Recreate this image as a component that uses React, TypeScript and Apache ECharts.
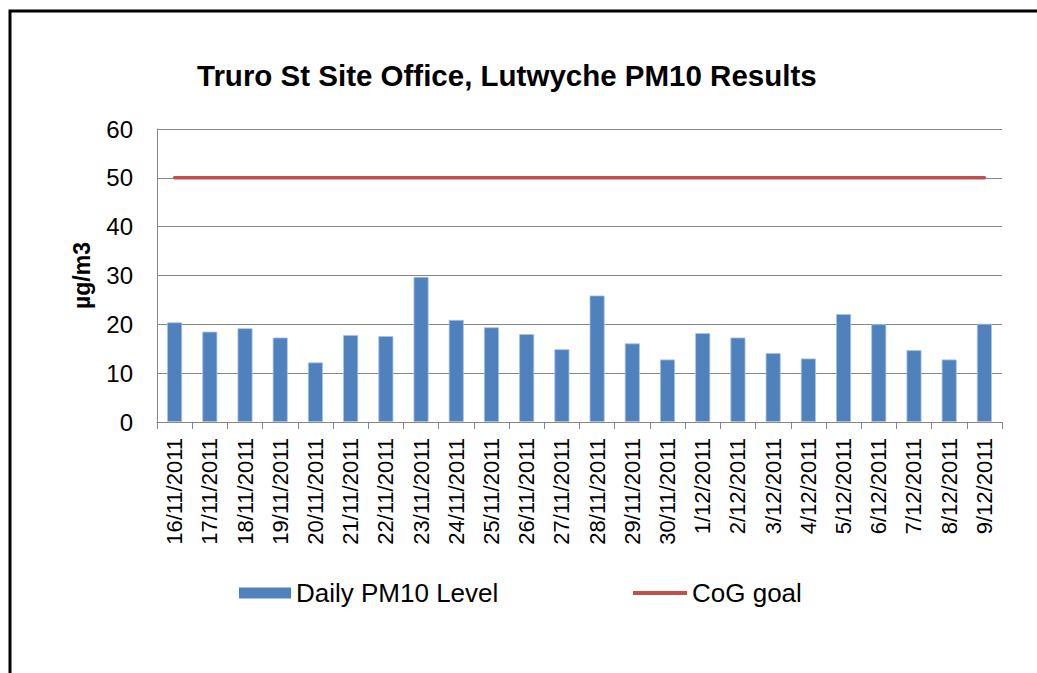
import React, { useEffect, useRef } from "react";
import * as echarts from "echarts";

const categories = [
  "16/11/2011", "17/11/2011", "18/11/2011", "19/11/2011", "20/11/2011", "21/11/2011",
  "22/11/2011", "23/11/2011", "24/11/2011", "25/11/2011", "26/11/2011", "27/11/2011",
  "28/11/2011", "29/11/2011", "30/11/2011", "1/12/2011", "2/12/2011", "3/12/2011",
  "4/12/2011", "5/12/2011", "6/12/2011", "7/12/2011", "8/12/2011", "9/12/2011",
];
const dailyPM10 = [
  20.4, 18.5, 19.2, 17.3, 12.2, 17.8, 17.6, 29.7, 20.9, 19.4, 18.0, 14.9,
  25.9, 16.1, 12.8, 18.2, 17.3, 14.1, 13.0, 22.1, 20.0, 14.7, 12.8, 20.1,
];
const cogGoal = categories.map(() => 50);
const yTicks = { min: 0, max: 60, interval: 10 };

const FONT = "'Liberation Sans', Arial, sans-serif";

export default function App() {
  const ref = useRef<HTMLDivElement>(null);
  useEffect(() => {
    if (!ref.current) return;
    const chart = echarts.init(ref.current, undefined, { renderer: "svg" });
    chart.setOption({
      animation: false,
      backgroundColor: "#ffffff",
      textStyle: { fontFamily: FONT, color: "#000" },
      title: {
        text: "Truro St Site Office, Lutwyche PM10 Results",
        left: 197,
        top: 60,
        padding: 0,
        textStyle: { fontFamily: FONT, fontSize: 29.5, fontWeight: "bold", color: "#000" },
      },
      graphic: [
        {
          type: "rect",
          shape: { x: 10, y: 11, width: 2000, height: 2000 },
          style: { fill: "none", stroke: "#000", lineWidth: 3 },
          silent: true,
        },
      ],
      legend: [
        {
          data: [{ name: "Daily PM10 Level", icon: "rect" }],
          left: 239,
          top: 580,
          padding: 0,
          itemWidth: 52,
          itemHeight: 11,
          itemStyle: { borderWidth: 0 },
          textStyle: { fontFamily: FONT, fontSize: 26, color: "#000" },
        },
        {
          data: [{ name: "CoG goal", icon: "rect" }],
          left: 633,
          top: 580,
          padding: 0,
          itemWidth: 54,
          itemHeight: 4,
          itemStyle: { color: "#C0504D" },
          textStyle: { fontFamily: FONT, fontSize: 26, color: "#000" },
        },
      ],
      grid: { left: 157, right: 35, top: 129, bottom: 251, containLabel: false },
      xAxis: {
        type: "category",
        data: categories,
        boundaryGap: true,
        axisLine: { show: true, lineStyle: { color: "#868686", width: 1 } },
        axisTick: { show: true, alignWithLabel: false, length: 7, lineStyle: { color: "#868686" } },
        axisLabel: {
          rotate: 90,
          interval: 0,
          margin: 16,
          fontFamily: FONT,
          fontSize: 22,
          color: "#000",
        },
        splitLine: { show: false },
      },
      yAxis: {
        type: "value",
        min: yTicks.min,
        max: yTicks.max,
        interval: yTicks.interval,
        name: "µg/m3",
        nameLocation: "middle",
        nameGap: 64,
        nameRotate: 90,
        nameTextStyle: { fontFamily: FONT, fontSize: 23, fontWeight: "bold", color: "#000" },
        axisLine: { show: true, lineStyle: { color: "#868686", width: 1 } },
        axisTick: { show: false },
        axisLabel: { margin: 24, fontFamily: FONT, fontSize: 24, color: "#000" },
        splitLine: { show: true, lineStyle: { color: "#868686", width: 1 } },
      },
      series: [
        {
          name: "Daily PM10 Level",
          type: "bar",
          data: dailyPM10,
          barWidth: 15,
          itemStyle: { color: "#4F81BD", borderColor: "#A9C1E0", borderWidth: 0.8 },
        },
        {
          name: "CoG goal",
          type: "line",
          data: cogGoal,
          symbol: "none",
          showSymbol: false,
          lineStyle: { color: "#C0504D", width: 3.5, cap: "round" },
          itemStyle: { color: "#C0504D" },
        },
      ],
    });
    return () => chart.dispose();
  }, []);
  return (
    <div
      ref={ref}
      style={{ position: "fixed", left: 0, top: 0, width: 1037, height: 673, background: "#fff" }}
    />
  );
}
